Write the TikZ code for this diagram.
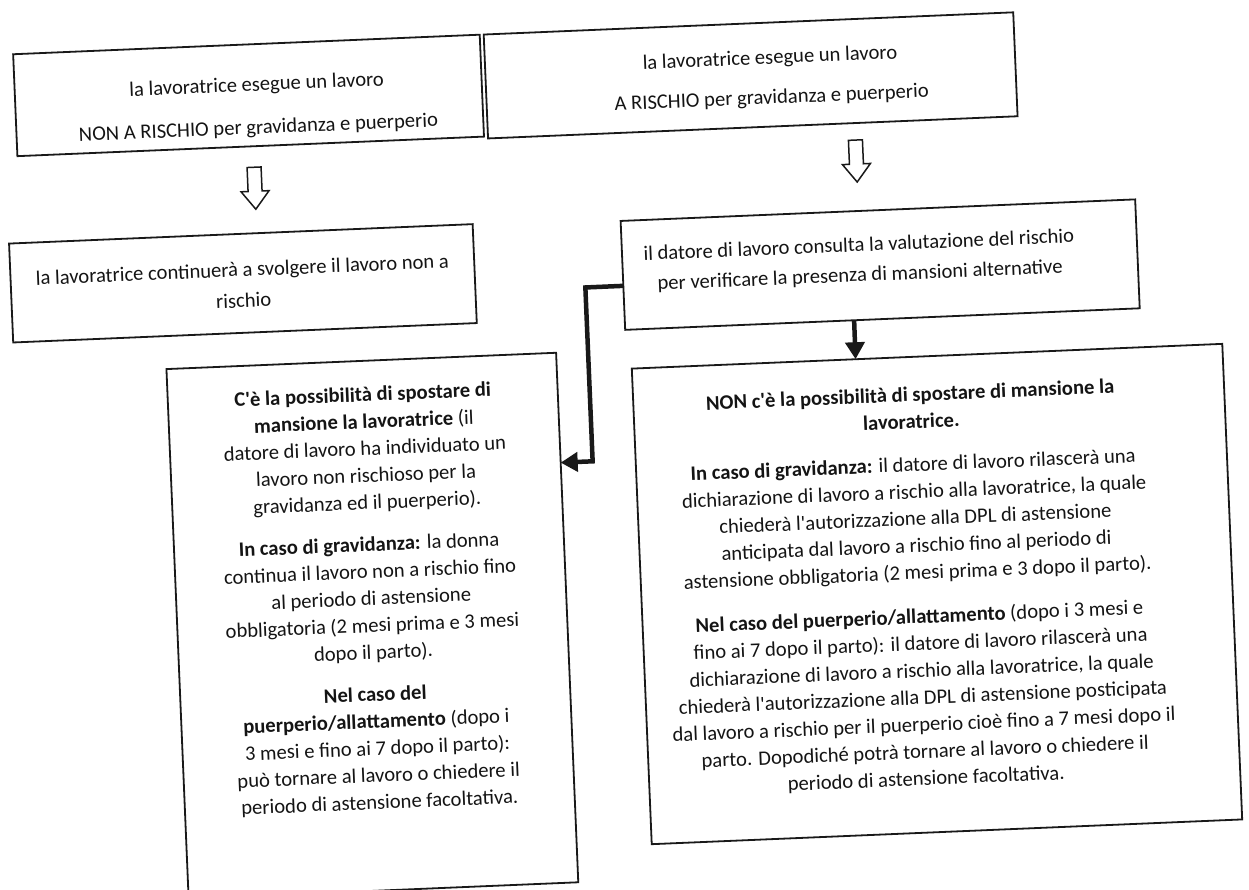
\documentclass[tikz,border=0pt]{standalone}
\usepackage{fontspec}
\setmainfont{Carlito}
\usetikzlibrary{arrows.meta,calc}
\newcommand{\aq}{\textquotesingle}
\begin{document}
\begin{tikzpicture}[x=1pt,y=-1pt,
  box/.style={draw=black!90, line width=1.8pt, rectangle, inner sep=0pt, outer sep=0pt},
  txt/.style={align=center, inner sep=0pt, font=\fontsize{20.6}{27}\selectfont, text=black!92},
  conn/.style={line width=4.5pt, draw=black!90, line join=miter},
  tip/.style={-{Triangle[length=17pt,width=19pt]}},
  hollowdown/.pic={\draw[line width=1.5pt, line join=miter, draw=black!90] (-7,0) -- (-7,24) -- (-14,24) -- (0,42) -- (14,24) -- (7,24) -- (7,0) -- cycle;}]
\fill[white] (0,0) rectangle (1249,890);
\useasboundingbox (0,0) rectangle (1249,890);
\begin{scope}[rotate around={2.4:(624,445)}, transform shape]
% top boxes
\node[box, minimum width=467pt, minimum height=102pt] (A) at (263.5,80) {};
\node[txt] (At) at (272,92) {la lavoratrice esegue un lavoro\\[16pt]NON A RISCHIO per gravidanza e puerperio};
\node[box, minimum width=530pt, minimum height=104pt] (B) at (766,81) {};
\node[txt] (Bt) at (786,85) {la lavoratrice esegue un lavoro\\[13pt]A RISCHIO per gravidanza e puerperio};
% hollow arrows
\pic at (266,152) {hollowdown};
\pic at (868,150) {hollowdown};
% middle boxes
\node[box, minimum width=464pt, minimum height=99pt] (C) at (250,267.5) {};
\node[txt] (Ct) at (250,269) {la lavoratrice continuerà a svolgere il lavoro non a\\[4pt]rischio};
\node[box, minimum width=515pt, minimum height=109pt] (D) at (887.5,275.5) {};
\node[txt] (Dt) at (867,271) {il datore di lavoro consulta la valutazione del rischio\\[3pt]per verificare la presenza di mansioni alternative};
% bottom boxes
\node[box, minimum width=390pt, minimum height=530pt] (E) at (365,615) {};
\node[txt] (Et) at (365,589) {\textbf{C\aq è la possibilità di spostare di}\\
\textbf{mansione la lavoratrice} (il\\
datore di lavoro ha individuato un\\
lavoro non rischioso per la\\
gravidanza ed il puerperio).\\[15pt]
\textbf{In caso di gravidanza:} la donna\\
continua il lavoro non a rischio fino\\
al periodo di astensione\\
obbligatoria (2 mesi prima e 3 mesi\\
dopo il parto).\\[15pt]
\textbf{Nel caso del}\\
\textbf{puerperio/allattamento} (dopo i\\
3 mesi e fino ai 7 dopo il parto):\\
può tornare al lavoro o chiedere il\\
periodo di astensione facoltativa.};
\node[box, minimum width=591pt, minimum height=476pt] (F) at (930.5,607) {};
\node[txt] (Ft) at (912,600) {\textbf{NON c\aq è la possibilità di spostare di mansione la}\\
\textbf{lavoratrice.}\\[16pt]
\textbf{In caso di gravidanza:} il datore di lavoro rilascerà una\\
dichiarazione di lavoro a rischio alla lavoratrice, la quale\\
chiederà l\aq autorizzazione alla DPL di astensione\\
anticipata dal lavoro a rischio fino al periodo di\\
astensione obbligatoria (2 mesi prima e 3 dopo il parto).\\[17pt]
\textbf{Nel caso del puerperio/allattamento} (dopo i 3 mesi e\\
fino ai 7 dopo il parto): il datore di lavoro rilascerà una\\
dichiarazione di lavoro a rischio alla lavoratrice, la quale\\
chiederà l\aq autorizzazione alla DPL di astensione posticipata\\
dal lavoro a rischio per il puerperio cioè fino a 7 mesi dopo il\\
parto. Dopodiché potrà tornare al lavoro o chiedere il\\
periodo di astensione facoltativa.};
% connectors
\coordinate (j1) at (592,286);
\coordinate (j2) at (592,460);
\draw[conn, tip] ($(D.north west)!0.596!(D.south west)$) -- (j1) -- (j2) -- ($(E.north east)!0.2075!(E.south east)$);
\draw[conn, tip] ($(D.south west)!0.445!(D.south east)$) -- ($(F.north west)!0.379!(F.north east)$);
\end{scope}
\end{tikzpicture}
\end{document}
